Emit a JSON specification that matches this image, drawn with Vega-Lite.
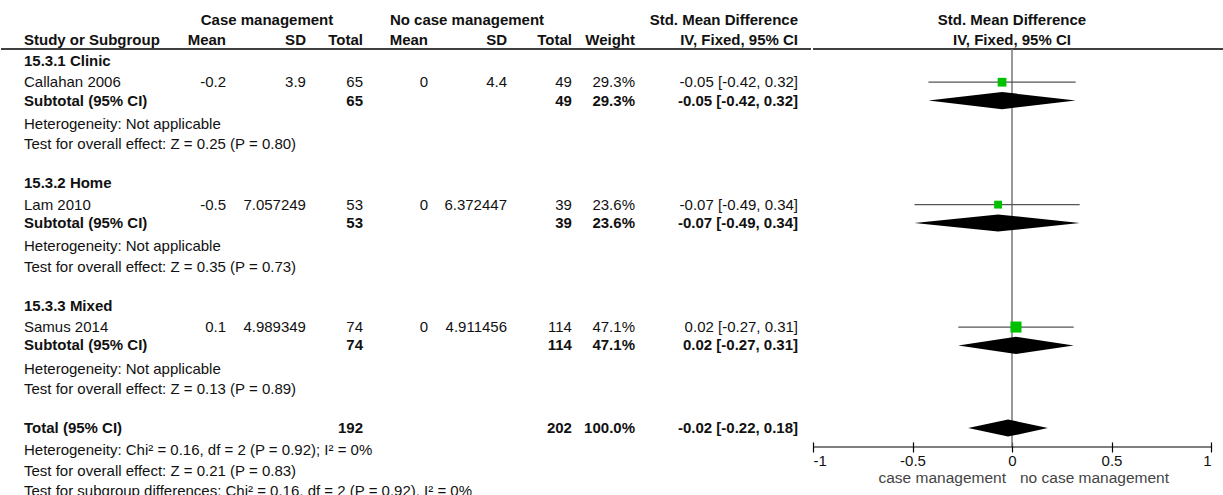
{
  "$schema": "https://vega.github.io/schema/vega-lite/v6.json",
  "padding": 0,
  "spacing": 0,
  "background": "white",
  "config": {
    "view": {"stroke": null},
    "font": "Liberation Sans",
    "text": {"fontSize": 15, "color": "#111111"}
  },
  "datasets": {
    "forest": [
      {"row": 1, "kind": "grouphead", "grp1": "Case management", "grp2": "No case management", "ci": "Std. Mean Difference"},
      {"row": 2, "kind": "head", "label": "Study or Subgroup", "m1": "Mean", "sd1": "SD", "n1": "Total", "m2": "Mean", "sd2": "SD", "n2": "Total", "wt": "Weight", "ci": "IV, Fixed, 95% CI", "fav1": "case management", "fav2": "no case management"},
      {"row": 3, "kind": "group", "label": "15.3.1 Clinic"},
      {"row": 4.05, "kind": "study", "label": "Callahan 2006", "m1": "-0.2", "sd1": "3.9", "n1": "65", "m2": "0", "sd2": "4.4", "n2": "49", "wt": "29.3%", "ci": "-0.05 [-0.42, 0.32]", "w": 29.3, "smd": -0.05, "lo": -0.42, "hi": 0.32},
      {"row": 4.95, "kind": "subtotal", "label": "Subtotal (95% CI)", "n1": "65", "n2": "49", "wt": "29.3%", "ci": "-0.05 [-0.42, 0.32]", "w": 29.3, "smd": -0.05, "lo": -0.42, "hi": 0.32},
      {"row": 6.1, "kind": "note", "label": "Heterogeneity: Not applicable"},
      {"row": 7.1, "kind": "note", "label": "Test for overall effect: Z = 0.25 (P = 0.80)"},
      {"row": 9, "kind": "group", "label": "15.3.2 Home"},
      {"row": 10.05, "kind": "study", "label": "Lam 2010", "m1": "-0.5", "sd1": "7.057249", "n1": "53", "m2": "0", "sd2": "6.372447", "n2": "39", "wt": "23.6%", "ci": "-0.07 [-0.49, 0.34]", "w": 23.6, "smd": -0.07, "lo": -0.49, "hi": 0.34},
      {"row": 10.95, "kind": "subtotal", "label": "Subtotal (95% CI)", "n1": "53", "n2": "39", "wt": "23.6%", "ci": "-0.07 [-0.49, 0.34]", "w": 23.6, "smd": -0.07, "lo": -0.49, "hi": 0.34},
      {"row": 12.1, "kind": "note", "label": "Heterogeneity: Not applicable"},
      {"row": 13.1, "kind": "note", "label": "Test for overall effect: Z = 0.35 (P = 0.73)"},
      {"row": 15, "kind": "group", "label": "15.3.3 Mixed"},
      {"row": 16.05, "kind": "study", "label": "Samus 2014", "m1": "0.1", "sd1": "4.989349", "n1": "74", "m2": "0", "sd2": "4.911456", "n2": "114", "wt": "47.1%", "ci": "0.02 [-0.27, 0.31]", "w": 47.1, "smd": 0.02, "lo": -0.27, "hi": 0.31},
      {"row": 16.95, "kind": "subtotal", "label": "Subtotal (95% CI)", "n1": "74", "n2": "114", "wt": "47.1%", "ci": "0.02 [-0.27, 0.31]", "w": 47.1, "smd": 0.02, "lo": -0.27, "hi": 0.31},
      {"row": 18.1, "kind": "note", "label": "Heterogeneity: Not applicable"},
      {"row": 19.1, "kind": "note", "label": "Test for overall effect: Z = 0.13 (P = 0.89)"},
      {"row": 21, "kind": "total", "label": "Total (95% CI)", "n1": "192", "n2": "202", "wt": "100.0%", "ci": "-0.02 [-0.22, 0.18]", "w": 100, "smd": -0.02, "lo": -0.22, "hi": 0.18},
      {"row": 22.1, "kind": "note", "label": "Heterogeneity: Chi² = 0.16, df = 2 (P = 0.92); I² = 0%"},
      {"row": 23.1, "kind": "note", "label": "Test for overall effect: Z = 0.21 (P = 0.83)"},
      {"row": 24.1, "kind": "note", "label": "Test for subgroup differences: Chi² = 0.16, df = 2 (P = 0.92), I² = 0%"}
    ]
  },
  "hconcat": [
    {
      "width": 810,
      "height": 447,
      "data": {"name": "forest"},
      "encoding": {
        "y": {"field": "row", "type": "quantitative", "scale": {"domain": [0.02, 21.93], "reverse": true}, "axis": null}
      },
      "layer": [
        {
          "transform": [{"filter": "datum.kind == 'head'"}],
          "mark": {"type": "rule", "color": "black", "strokeWidth": 1.5},
          "encoding": {
            "x": {"datum": 0, "type": "quantitative", "scale": {"domain": [0, 100]}, "axis": null},
            "x2": {"datum": 100},
            "y": {"datum": 2.42}
          }
        },
        {
          "transform": [{"filter": "isValid(datum.label)"}],
          "mark": {"type": "text", "align": "left", "baseline": "middle", "fontWeight": {"expr": "datum.kind == 'study' || datum.kind == 'note' ? 'normal' : 'bold'"}},
          "encoding": {"x": {"datum": 2.84, "type": "quantitative", "scale": {"domain": [0, 100]}, "axis": null}, "text": {"field": "label", "type": "nominal"}}
        },
        {
          "transform": [{"filter": "isValid(datum.grp1)"}],
          "mark": {"type": "text", "align": "center", "baseline": "middle", "fontWeight": "bold"},
          "encoding": {"x": {"datum": 32.84, "type": "quantitative", "scale": {"domain": [0, 100]}, "axis": null}, "text": {"field": "grp1", "type": "nominal"}}
        },
        {
          "transform": [{"filter": "isValid(datum.grp2)"}],
          "mark": {"type": "text", "align": "center", "baseline": "middle", "fontWeight": "bold"},
          "encoding": {"x": {"datum": 57.53, "type": "quantitative", "scale": {"domain": [0, 100]}, "axis": null}, "text": {"field": "grp2", "type": "nominal"}}
        },
        {
          "transform": [{"filter": "isValid(datum.m1)"}],
          "mark": {"type": "text", "align": "right", "baseline": "middle", "fontWeight": {"expr": "datum.kind == 'study' || datum.kind == 'note' ? 'normal' : 'bold'"}},
          "encoding": {"x": {"datum": 27.78, "type": "quantitative", "scale": {"domain": [0, 100]}, "axis": null}, "text": {"field": "m1", "type": "nominal"}}
        },
        {
          "transform": [{"filter": "isValid(datum.sd1)"}],
          "mark": {"type": "text", "align": "right", "baseline": "middle", "fontWeight": {"expr": "datum.kind == 'study' || datum.kind == 'note' ? 'normal' : 'bold'"}},
          "encoding": {"x": {"datum": 37.65, "type": "quantitative", "scale": {"domain": [0, 100]}, "axis": null}, "text": {"field": "sd1", "type": "nominal"}}
        },
        {
          "transform": [{"filter": "isValid(datum.n1)"}],
          "mark": {"type": "text", "align": "right", "baseline": "middle", "fontWeight": {"expr": "datum.kind == 'study' || datum.kind == 'note' ? 'normal' : 'bold'"}},
          "encoding": {"x": {"datum": 44.69, "type": "quantitative", "scale": {"domain": [0, 100]}, "axis": null}, "text": {"field": "n1", "type": "nominal"}}
        },
        {
          "transform": [{"filter": "isValid(datum.m2)"}],
          "mark": {"type": "text", "align": "right", "baseline": "middle", "fontWeight": {"expr": "datum.kind == 'study' || datum.kind == 'note' ? 'normal' : 'bold'"}},
          "encoding": {"x": {"datum": 52.72, "type": "quantitative", "scale": {"domain": [0, 100]}, "axis": null}, "text": {"field": "m2", "type": "nominal"}}
        },
        {
          "transform": [{"filter": "isValid(datum.sd2)"}],
          "mark": {"type": "text", "align": "right", "baseline": "middle", "fontWeight": {"expr": "datum.kind == 'study' || datum.kind == 'note' ? 'normal' : 'bold'"}},
          "encoding": {"x": {"datum": 62.47, "type": "quantitative", "scale": {"domain": [0, 100]}, "axis": null}, "text": {"field": "sd2", "type": "nominal"}}
        },
        {
          "transform": [{"filter": "isValid(datum.n2)"}],
          "mark": {"type": "text", "align": "right", "baseline": "middle", "fontWeight": {"expr": "datum.kind == 'study' || datum.kind == 'note' ? 'normal' : 'bold'"}},
          "encoding": {"x": {"datum": 70.49, "type": "quantitative", "scale": {"domain": [0, 100]}, "axis": null}, "text": {"field": "n2", "type": "nominal"}}
        },
        {
          "transform": [{"filter": "isValid(datum.wt)"}],
          "mark": {"type": "text", "align": "right", "baseline": "middle", "fontWeight": {"expr": "datum.kind == 'study' || datum.kind == 'note' ? 'normal' : 'bold'"}},
          "encoding": {"x": {"datum": 78.27, "type": "quantitative", "scale": {"domain": [0, 100]}, "axis": null}, "text": {"field": "wt", "type": "nominal"}}
        },
        {
          "transform": [{"filter": "isValid(datum.ci)"}],
          "mark": {"type": "text", "align": "right", "baseline": "middle", "fontWeight": {"expr": "datum.kind == 'study' || datum.kind == 'note' ? 'normal' : 'bold'"}},
          "encoding": {"x": {"datum": 98.4, "type": "quantitative", "scale": {"domain": [0, 100]}, "axis": null}, "text": {"field": "ci", "type": "nominal"}}
        }
      ]
    },
    {
      "width": 398,
      "height": 447,
      "data": {"name": "forest"},
      "encoding": {
        "y": {"field": "row", "type": "quantitative", "scale": {"domain": [0.02, 21.93], "reverse": true}, "axis": null}
      },
      "layer": [
        {
          "transform": [{"filter": "datum.kind == 'head'"}],
          "mark": {"type": "rule", "color": "black", "strokeWidth": 1.5},
          "encoding": {
            "x": {
              "datum": -1, "type": "quantitative", "scale": {"domain": [-1, 1]},
              "axis": {
                "values": [-1, -0.5, 0, 0.5, 1],
                "labelExpr": "datum.value + ''",
                "domain": false,
                "grid": false,
                "ticks": true,
                "tickSize": 10,
                "tickColor": "black",
                "tickWidth": 1.2,
                "offset": -5,
                "labelFont": "Liberation Sans",
                "labelFontSize": 15,
                "labelColor": "#111111",
                "labelPadding": 1,
                "labelFlush": true,
                "title": null
              }
            },
            "x2": {"datum": 1.075},
            "y": {"datum": 2.42}
          }
        },
        {
          "transform": [{"filter": "datum.kind == 'head'"}],
          "mark": {"type": "rule", "color": "#777777", "strokeWidth": 1.5},
          "encoding": {
            "x": {"datum": 0, "type": "quantitative"},
            "y": {"datum": 2.42},
            "y2": {"datum": 21.93}
          }
        },
        {
          "transform": [{"filter": "datum.kind == 'study'"}],
          "mark": {"type": "rule", "color": "#555555", "strokeWidth": 1.3},
          "encoding": {
            "x": {"field": "lo", "type": "quantitative", "title": null},
            "x2": {"field": "hi"}
          }
        },
        {
          "transform": [{"filter": "datum.kind == 'study'"}],
          "mark": {"type": "point", "shape": "square", "filled": true, "opacity": 1, "color": "#00c000"},
          "encoding": {
            "x": {"field": "smd", "type": "quantitative", "title": null},
            "size": {"field": "w", "type": "quantitative", "scale": {"domain": [0, 50], "range": [0, 130]}, "legend": null}
          }
        },
        {
          "transform": [
            {"filter": "datum.kind == 'subtotal' || datum.kind == 'total'"},
            {"fold": ["lo", "smd", "hi"], "as": ["pt", "xv"]},
            {"calculate": "datum.pt == 'smd' ? 0.42 : 0", "as": "half"},
            {"calculate": "datum.row - datum.half", "as": "ytop"},
            {"calculate": "datum.row + datum.half", "as": "ybot"}
          ],
          "mark": {"type": "area", "orient": "vertical", "color": "black", "opacity": 1},
          "encoding": {
            "x": {"field": "xv", "type": "quantitative", "title": null},
            "y": {"field": "ytop", "type": "quantitative", "stack": null},
            "y2": {"field": "ybot"},
            "detail": {"field": "row", "type": "nominal"}
          }
        },
        {
          "transform": [{"filter": "datum.kind == 'head'"}],
          "mark": {"type": "rule", "color": "black", "strokeWidth": 1.2},
          "encoding": {
            "x": {"datum": -1, "type": "quantitative"},
            "x2": {"datum": 1},
            "y": {"datum": 21.93}
          }
        },
        {
          "transform": [{"filter": "datum.kind == 'head' || datum.kind == 'grouphead'"}],
          "mark": {"type": "text", "align": "center", "baseline": "middle", "fontWeight": "bold"},
          "encoding": {
            "x": {"datum": 0, "type": "quantitative"},
            "text": {"field": "ci", "type": "nominal"}
          }
        },
        {
          "transform": [{"filter": "datum.kind == 'head'"}],
          "mark": {"type": "text", "align": "right", "baseline": "middle", "color": "#444444", "fontSize": 15.5},
          "encoding": {
            "x": {"datum": -0.03, "type": "quantitative"},
            "y": {"datum": 23.45},
            "text": {"field": "fav1", "type": "nominal"}
          }
        },
        {
          "transform": [{"filter": "datum.kind == 'head'"}],
          "mark": {"type": "text", "align": "left", "baseline": "middle", "color": "#444444", "fontSize": 15.5},
          "encoding": {
            "x": {"datum": 0.04, "type": "quantitative"},
            "y": {"datum": 23.45},
            "text": {"field": "fav2", "type": "nominal"}
          }
        }
      ]
    }
  ]
}
